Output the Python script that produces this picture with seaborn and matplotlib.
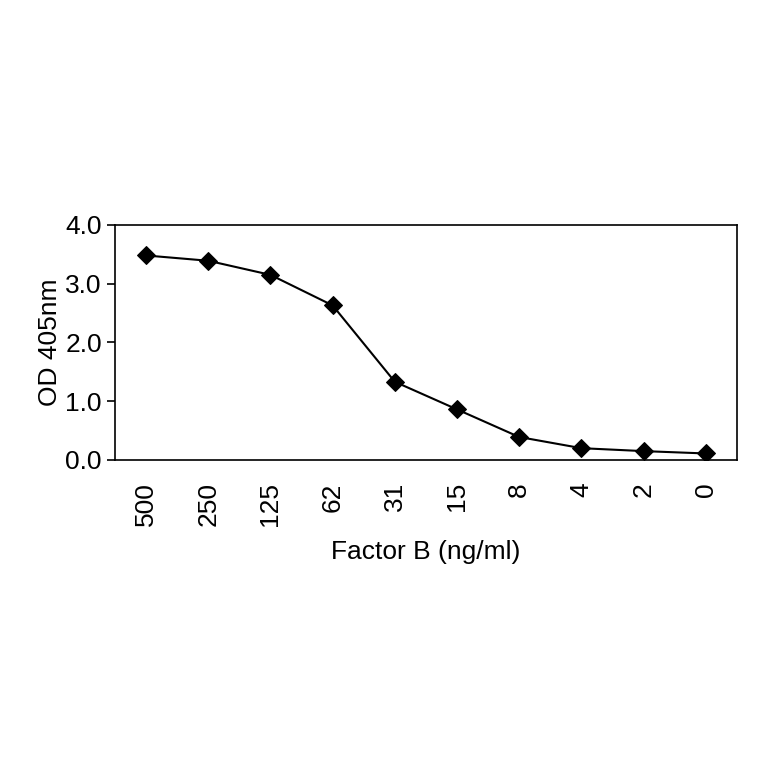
import matplotlib
matplotlib.use("Agg")
import matplotlib.pyplot as plt
import seaborn as sns
import pandas as pd
import numpy as np

concentrations = ["500", "250", "125", "62", "31", "15", "8", "4", "2", "0"]
od_values = [3.48, 3.39, 3.15, 2.63, 1.33, 0.86, 0.39, 0.20, 0.15, 0.11]

df = pd.DataFrame({"conc": concentrations, "od": od_values})

sns.set_style("white")
plt.rcParams["font.family"] = ["Liberation Sans", "DejaVu Sans"]
plt.rcParams["text.color"] = "black"
plt.rcParams["axes.labelcolor"] = "black"
plt.rcParams["xtick.color"] = "black"
plt.rcParams["ytick.color"] = "black"

fig = plt.figure(figsize=(7.64, 7.64), dpi=100)
ax = fig.add_axes([0.1505, 0.398, 0.814, 0.3076])
sns.lineplot(data=df, x="conc", y="od", sort=False, color="black", lw=1.5,
             marker="D", markersize=9, markeredgecolor="black", ax=ax)

ax.set_xlim(-0.5, 9.5)
ax.set_ylim(0, 4.0)
ax.set_yticks(np.arange(0, 4.01, 1.0))
ax.set_yticklabels([f"{v:.1f}" for v in np.arange(0, 4.01, 1.0)], fontsize=19)
ax.set_xticks(range(len(concentrations)))
ax.set_xticklabels(concentrations, rotation=90, fontsize=19)
ax.tick_params(axis="x", length=0, pad=16)
ax.set_xticks(np.arange(0.5, 9.0, 1.0), minor=True)
ax.tick_params(axis="x", which="minor", length=6, width=1.2, direction="out")
ax.tick_params(axis="y", length=6, width=1.2, direction="out", left=True)
for s in ax.spines.values():
    s.set_color("black")
    s.set_linewidth(1.2)
ax.set_xlabel("Factor B (ng/ml)", fontsize=19, labelpad=10)
ax.set_ylabel("OD 405nm", fontsize=19, labelpad=2)

fig.savefig("out.png", dpi=100)
